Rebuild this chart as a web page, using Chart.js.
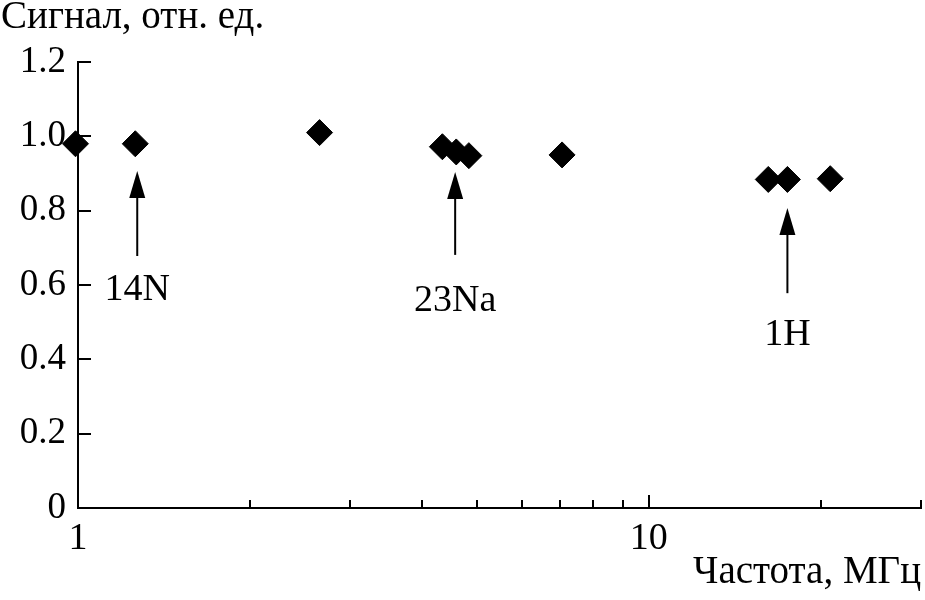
<!DOCTYPE html>
<html>
<head>
<meta charset="utf-8">
<script src="https://cdn.jsdelivr.net/npm/chart.js@4.4.1/dist/chart.umd.min.js"></script>
<style>
  body { margin: 0; background: #fff; }
  canvas { display: block; }
</style>
</head>
<body>
<canvas id="chart" width="925" height="600"></canvas>
<script>
// measured points (frequency in MHz, signal in rel. units)
const freq = [0.99, 1.26, 2.65, 4.35, 4.60, 4.84, 7.05, 16.2, 17.5, 20.8];
const signal = [0.98, 0.98, 1.01, 0.972, 0.958, 0.948, 0.95, 0.884, 0.884, 0.886];

const xTickValues = [1, 2, 3, 4, 5, 6, 7, 8, 9, 10, 20, 30];
const xTickLabels = ['1', '10'];
const yTickValues = [0, 0.2, 0.4, 0.6, 0.8, 1.0, 1.2];
const yTickLabels = ['0', '0.2', '0.4', '0.6', '0.8', '1.0', '1.2'];

// nucleus arrows: x position, arrow tip, arrow tail, label baseline (data units)
const nucleus = ['14N', '23Na', '1H'];
const arrowX = [1.27, 4.58, 17.5];
const arrowTip = [0.907, 0.904, 0.807];
const arrowTail = [0.678, 0.681, 0.578];
const labelY = [0.56, 0.53, 0.438];

const yTitle = 'Сигнал, отн. ед.';
const xTitle = 'Частота, МГц';

const serif = '"Liberation Serif", "DejaVu Serif", serif';

const overlay = {
  id: 'overlay',
  afterDraw(chart) {
    const { ctx, chartArea: a, scales: { x, y } } = chart;
    ctx.save();
    ctx.strokeStyle = '#000';
    ctx.fillStyle = '#000';
    ctx.lineWidth = 2;

    // inward ticks
    ctx.beginPath();
    x.ticks.forEach(t => {
      const px = Math.round(x.getPixelForValue(t.value));
      const len = Number.isInteger(Math.log10(t.value)) ? 13 : 8;
      ctx.moveTo(px, a.bottom);
      ctx.lineTo(px, a.bottom - len);
    });
    y.ticks.forEach(t => {
      const py = Math.round(y.getPixelForValue(t.value));
      ctx.moveTo(a.left, py);
      ctx.lineTo(a.left + 13, py);
    });
    ctx.stroke();

    // arrows + labels
    ctx.font = '38px ' + serif;
    ctx.textAlign = 'center';
    ctx.textBaseline = 'alphabetic';
    nucleus.forEach((name, i) => {
      const px = x.getPixelForValue(arrowX[i]);
      const tip = y.getPixelForValue(arrowTip[i]);
      const tail = y.getPixelForValue(arrowTail[i]);
      ctx.beginPath();
      ctx.moveTo(px, tail);
      ctx.lineTo(px, tip + 20);
      ctx.stroke();
      ctx.beginPath();
      ctx.moveTo(px, tip);
      ctx.lineTo(px - 8, tip + 27);
      ctx.lineTo(px + 8, tip + 27);
      ctx.closePath();
      ctx.fill();
      ctx.fillText(name, px, y.getPixelForValue(labelY[i]));
    });

    // axis titles
    ctx.font = '39px ' + serif;
    ctx.textAlign = 'left';
    ctx.fillText(yTitle, 1, 28);
    ctx.textAlign = 'right';
    ctx.fillText(xTitle, 921, 583);
    ctx.restore();
  }
};

new Chart(document.getElementById('chart'), {
  type: 'scatter',
  data: {
    datasets: [{
      data: freq.map((f, i) => ({ x: f, y: signal[i] })),
      pointStyle: 'rectRot',
      pointRadius: 13,
      backgroundColor: '#000',
      borderColor: '#000',
      borderWidth: 1,
      clip: false
    }]
  },
  options: {
    responsive: false,
    animation: false,
    events: [],
    layout: { autoPadding: false, padding: { top: 62, right: 4, left: 0, bottom: 0 } },
    plugins: { legend: { display: false }, tooltip: { enabled: false } },
    scales: {
      x: {
        type: 'logarithmic',
        min: 1,
        max: 30,
        afterBuildTicks: s => { s.ticks = xTickValues.map(v => ({ value: v })); },
        afterFit: s => { s.height = 92; s.paddingLeft = 0; s.paddingRight = 0; },
        grid: { display: false, drawTicks: false },
        border: { display: true, color: '#000', width: 2 },
        ticks: {
          autoSkip: false,
          maxRotation: 0,
          padding: 8,
          color: '#000',
          font: { family: serif, size: 38 },
          callback: v => xTickLabels.includes(String(v)) ? String(v) : ''
        }
      },
      y: {
        min: 0,
        max: 1.2,
        afterBuildTicks: s => { s.ticks = yTickValues.map(v => ({ value: v })); },
        afterFit: s => { s.width = 78; },
        grid: { display: false, drawTicks: false },
        border: { display: true, color: '#000', width: 2 },
        ticks: {
          padding: 12,
          color: '#000',
          font: { family: serif, size: 37 },
          callback: (v, i) => yTickLabels[i]
        }
      }
    }
  },
  plugins: [overlay]
});
</script>
</body>
</html>
